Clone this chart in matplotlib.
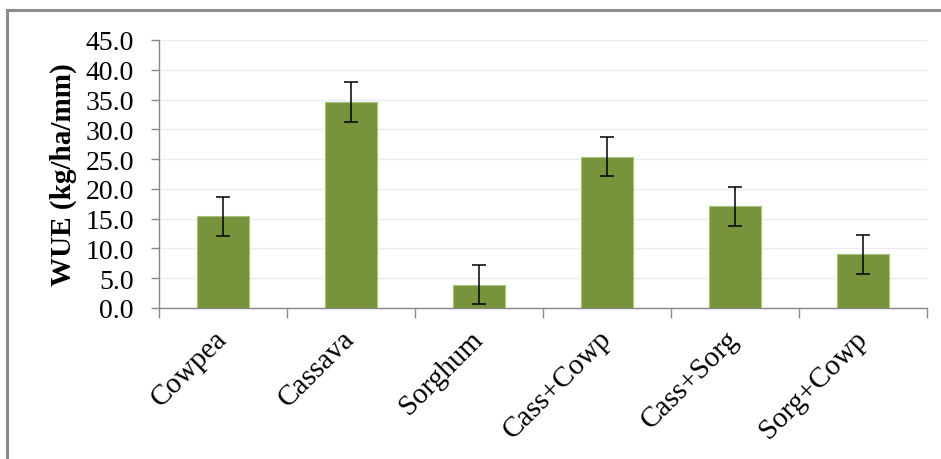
import matplotlib
matplotlib.use("Agg")
import matplotlib.pyplot as plt
from matplotlib.lines import Line2D
import numpy as np

categories = ["Cowpea", "Cassava", "Sorghum", "Cass+Cowp", "Cass+Sorg", "Sorg+Cowp"]
wue = [15.4, 34.6, 3.9, 25.4, 17.1, 9.0]
err = [3.3, 3.3, 3.3, 3.3, 3.3, 3.3]
yticks = [0, 5, 10, 15, 20, 25, 30, 35, 40, 45]

W, H = 941, 460
fig = plt.figure(figsize=(W / 100, H / 100), dpi=100)
fig.patch.set_facecolor("white")

# Figure border (top and left visible)
fig.add_artist(Line2D([7 / W, 1.0], [1 - 11 / H, 1 - 11 / H], color="#8c8c8c", lw=2.2,
                      transform=fig.transFigure))
fig.add_artist(Line2D([7 / W, 7 / W], [0, 1 - 11 / H], color="#8c8c8c", lw=2.2,
                      transform=fig.transFigure))

left, right = 159 / W, 927 / W
bottom, top = (H - 309) / H, (H - 41) / H
ax = fig.add_axes([left, bottom, right - left, top - bottom])

x = np.arange(len(categories))
ax.bar(x, wue, width=0.4, color="#77933C", edgecolor="#a9c17a", linewidth=0.8, zorder=3)
ax.errorbar(x, wue, yerr=err, fmt="none", ecolor="black", elinewidth=1.1,
            capsize=4.8, capthick=1.1, zorder=4)

ax.set_xlim(-0.5, len(categories) - 0.5)
ax.set_ylim(0, 45)
ax.set_yticks(yticks)
ax.set_yticklabels([f"{v:.1f}" for v in yticks], fontfamily="Liberation Serif", fontsize=20)
ax.yaxis.grid(True, color="#ececec", linewidth=1.0, zorder=0)
ax.set_axisbelow(True)

ax.set_xticks(x)
ax.set_xticklabels(categories, fontfamily="Liberation Serif", fontsize=21,
                   rotation=45, ha="right", va="center", rotation_mode="anchor")
ax.tick_params(axis="x", which="major", length=0, pad=19)
ax.set_xticks(np.arange(-0.5, len(categories)), minor=True)
ax.tick_params(axis="x", which="minor", length=7, color="#888888", width=1)
ax.tick_params(axis="y", length=6, color="#888888", width=1, pad=12)

for s in ["top", "right"]:
    ax.spines[s].set_visible(False)
for s in ["left", "bottom"]:
    ax.spines[s].set_color("#888888")
    ax.spines[s].set_linewidth(1.0)

ax.set_ylabel("WUE (kg/ha/mm)", fontfamily="Liberation Serif", fontsize=21,
              fontweight="bold", labelpad=6)

fig.savefig("out.png", dpi=100)
